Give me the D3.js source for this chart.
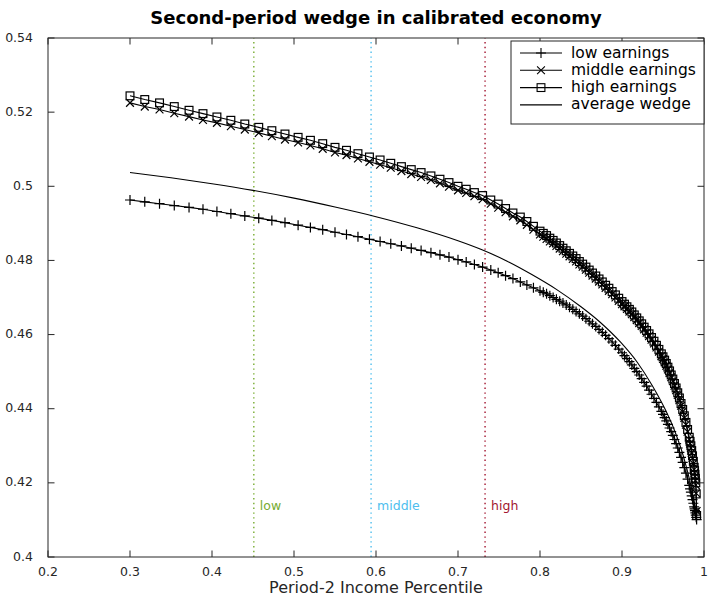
<!DOCTYPE html>
<html>
<head>
<meta charset="utf-8">
<script src="https://cdn.jsdelivr.net/npm/d3@7"></script>
<style>
body { margin: 0; background: #fff; }
text { font-family: "DejaVu Sans", "Liberation Sans", Arial, sans-serif; }
</style>
</head>
<body>
<div id="chart"></div>
<script>
// percentile grid shared by the three marker series
const pct = [0.300,0.318,0.336,0.354,0.372,0.389,0.406,0.423,0.440,0.457,
  0.473,0.489,0.505,0.520,0.535,0.550,0.564,0.578,0.592,0.605,
  0.618,0.631,0.643,0.655,0.667,0.678,0.689,0.700,0.710,0.720,
  0.730,0.740,0.749,0.758,0.767,0.776,0.784,0.792,0.800,
  0.804,0.808,0.812,0.816,0.820,0.824,0.828,0.832,0.836,0.840,
  0.844,0.848,0.852,0.856,0.860,0.864,0.868,0.872,0.876,0.880,
  0.884,0.888,0.892,0.896,0.900,
  0.903,0.906,0.909,0.912,0.915,0.918,0.921,0.924,0.927,0.930,
  0.933,0.936,0.939,0.942,0.945,0.948,
  0.950,0.952,0.954,0.956,0.958,0.960,0.962,0.964,0.966,0.968,
  0.970,0.972,0.974,0.976,0.978,0.980,0.982,
  0.983,0.984,0.985,0.986,0.987,0.988,
  0.9885,0.989,0.9895,0.990,0.9905,0.991];

const lowEarnings = [0.4963,0.4958,0.4953,0.4948,0.4943,0.4938,0.4932,0.4926,0.4920,0.4914,
  0.4908,0.4902,0.4895,0.4889,0.4883,0.4876,0.4870,0.4864,0.4857,0.4851,
  0.4845,0.4839,0.4833,0.4827,0.4821,0.4815,0.4809,0.4802,0.4796,0.4789,
  0.4782,0.4774,0.4767,0.4759,0.4751,0.4742,0.4734,0.4726,0.4718,
  0.4714,0.4710,0.4705,0.4700,0.4695,0.4690,0.4685,0.4680,0.4674,0.4668,
  0.4662,0.4656,0.4650,0.4643,0.4636,0.4629,0.4622,0.4614,0.4606,0.4598,
  0.4589,0.4580,0.4571,0.4561,0.4551,
  0.4543,0.4535,0.4527,0.4518,0.4509,0.4500,0.4491,0.4481,0.4471,0.4461,
  0.4450,0.4439,0.4428,0.4417,0.4405,0.4393,
  0.4385,0.4376,0.4367,0.4358,0.4348,0.4338,0.4328,0.4317,0.4306,0.4294,
  0.4282,0.4269,0.4255,0.4241,0.4226,0.4210,0.4193,
  0.4184,0.4175,0.4165,0.4155,0.4145,0.4135,
  0.4130,0.4125,0.4119,0.4113,0.4107,0.4101];

const middleEarnings = [0.5225,0.5215,0.5207,0.5197,0.5188,0.5179,0.5171,0.5162,0.5153,0.5144,
  0.5135,0.5126,0.5118,0.5110,0.5101,0.5091,0.5084,0.5075,0.5066,0.5058,
  0.5050,0.5041,0.5033,0.5025,0.5017,0.5008,0.4999,0.4989,0.4982,0.4973,
  0.4965,0.4953,0.4942,0.4930,0.4919,0.4908,0.4896,0.4883,0.4870,
  0.4864,0.4858,0.4851,0.4846,0.4839,0.4832,0.4825,0.4818,0.4811,0.4804,
  0.4797,0.4789,0.4783,0.4775,0.4767,0.4759,0.4751,0.4743,0.4735,0.4726,
  0.4718,0.4709,0.4700,0.4691,0.4682,
  0.4676,0.4669,0.4662,0.4655,0.4647,0.4639,0.4631,0.4623,0.4614,0.4605,
  0.4596,0.4586,0.4576,0.4565,0.4554,0.4542,
  0.4534,0.4525,0.4516,0.4506,0.4496,0.4485,0.4474,0.4462,0.4450,0.4437,
  0.4423,0.4408,0.4392,0.4375,0.4357,0.4338,0.4317,
  0.4306,0.4294,0.4281,0.4267,0.4252,0.4236,
  0.4227,0.4217,0.4206,0.4194,0.4172,0.4124];

const highEarnings = [0.5244,0.5234,0.5225,0.5215,0.5205,0.5196,0.5187,0.5178,0.5168,0.5159,
  0.5150,0.5141,0.5132,0.5124,0.5115,0.5105,0.5097,0.5088,0.5079,0.5071,
  0.5062,0.5053,0.5045,0.5037,0.5028,0.5019,0.5010,0.5000,0.4992,0.4983,
  0.4975,0.4963,0.4952,0.4940,0.4928,0.4917,0.4905,0.4892,0.4879,
  0.4873,0.4867,0.4860,0.4854,0.4847,0.4840,0.4833,0.4826,0.4819,0.4812,
  0.4805,0.4797,0.4790,0.4782,0.4774,0.4766,0.4758,0.4750,0.4742,0.4733,
  0.4725,0.4716,0.4707,0.4698,0.4689,
  0.4682,0.4675,0.4668,0.4661,0.4653,0.4645,0.4637,0.4629,0.4620,0.4611,
  0.4602,0.4592,0.4582,0.4571,0.4560,0.4548,
  0.4540,0.4531,0.4522,0.4512,0.4502,0.4491,0.4480,0.4468,0.4456,0.4443,
  0.4429,0.4414,0.4398,0.4381,0.4363,0.4344,0.4323,
  0.4312,0.4300,0.4287,0.4273,0.4258,0.4242,
  0.4233,0.4223,0.4212,0.4200,0.4170,0.4112];

// average wedge (plain line, no markers)
const avgPct = [0.300,0.350,0.400,0.450,0.500,0.550,0.600,0.650,0.700,0.730,
  0.760,0.790,0.820,0.850,0.873,0.898,0.919,0.937,0.952,0.965,0.975,0.983,0.989,0.991];
const avgWedge = [0.5037,0.5023,0.5007,0.4989,0.4968,0.4944,0.4918,0.4888,0.4853,0.4828,
  0.4798,0.4762,0.4722,0.4675,0.4634,0.4580,0.4524,0.4462,0.4401,0.4336,0.4271,0.4203,0.4139,0.4112];

// cutoff percentiles
const cutNames = ["low", "middle", "high"];
const cutValues = [0.451, 0.594, 0.733];
const cutColors = ["#77AC30", "#4DBEEE", "#A2142F"];

const xTicks = [0.2,0.3,0.4,0.5,0.6,0.7,0.8,0.9,1];
const yTicks = [0.4,0.42,0.44,0.46,0.48,0.5,0.52,0.54];

const legendNames = ["low earnings", "middle earnings", "high earnings", "average wedge"];
const legendMarks = ["plus", "cross", "square", "none"];

const width = 708, height = 598;
const margin = {top: 38, right: 4, bottom: 41, left: 48};
const axisColor = "#262626";

const svg = d3.select("#chart").append("svg")
  .attr("width", width)
  .attr("height", height);

const x = d3.scaleLinear().domain([0.2, 1]).range([margin.left, width - margin.right]);
const y = d3.scaleLinear().domain([0.4, 0.54]).range([height - margin.bottom, margin.top]);

// dotted cutoff lines + labels
cutValues.forEach((c, i) => {
  svg.append("line")
    .attr("x1", x(c)).attr("x2", x(c))
    .attr("y1", y(0.4)).attr("y2", y(0.54))
    .attr("stroke", cutColors[i])
    .attr("stroke-width", 1.4)
    .attr("stroke-dasharray", "1.4,3.4");
  svg.append("text")
    .attr("x", x(c) + 6)
    .attr("y", y(0.4135))
    .attr("dominant-baseline", "middle")
    .style("font-size", "12.5px")
    .style("fill", cutColors[i])
    .text(cutNames[i]);
});

// marker shapes
function drawMarker(g, kind, cx, cy) {
  if (kind == "plus") {
    g.append("path").attr("d", `M${cx-5},${cy}H${cx+5}M${cx},${cy-5}V${cy+5}`);
  } else if (kind == "cross") {
    g.append("path").attr("d", `M${cx-3.9},${cy-3.9}L${cx+3.9},${cy+3.9}M${cx-3.9},${cy+3.9}L${cx+3.9},${cy-3.9}`);
  } else if (kind == "square") {
    g.append("rect").attr("x", cx-3.9).attr("y", cy-3.9).attr("width", 7.8).attr("height", 7.8).attr("fill", "none");
  }
}

const line = d3.line().x(d => x(d[0])).y(d => y(d[1]));

const series = [
  {vals: lowEarnings, mark: "plus"},
  {vals: middleEarnings, mark: "cross"},
  {vals: highEarnings, mark: "square"}
];

const plot = svg.append("g").attr("stroke", "#000").attr("stroke-width", 1.1).attr("fill", "none");

series.forEach(s => {
  const pts = pct.map((p, i) => [p, s.vals[i]]);
  plot.append("path").attr("d", line(pts));
  const mg = plot.append("g").attr("stroke-width", 1.2);
  pts.forEach(d => drawMarker(mg, s.mark, x(d[0]), y(d[1])));
});

plot.append("path")
  .attr("d", d3.line().curve(d3.curveMonotoneX).x(d => x(d[0])).y(d => y(d[1]))(avgPct.map((p, i) => [p, avgWedge[i]])));

// axes box with inward ticks on all sides
const ax = svg.append("g").attr("stroke", axisColor).attr("stroke-width", 1);
ax.append("rect")
  .attr("x", x(0.2)).attr("y", y(0.54))
  .attr("width", x(1) - x(0.2)).attr("height", y(0.4) - y(0.54))
  .attr("fill", "none");
const tl = 6.5;
xTicks.forEach(t => {
  ax.append("line").attr("x1", x(t)).attr("x2", x(t)).attr("y1", y(0.4)).attr("y2", y(0.4) - tl);
  ax.append("line").attr("x1", x(t)).attr("x2", x(t)).attr("y1", y(0.54)).attr("y2", y(0.54) + tl);
});
yTicks.forEach(t => {
  ax.append("line").attr("y1", y(t)).attr("y2", y(t)).attr("x1", x(0.2)).attr("x2", x(0.2) + tl);
  ax.append("line").attr("y1", y(t)).attr("y2", y(t)).attr("x1", x(1)).attr("x2", x(1) - tl);
});

const fmt = d => String(+d.toFixed(2));
svg.selectAll("text.xtick").data(xTicks).enter().append("text")
  .attr("class", "xtick")
  .attr("x", d => x(d)).attr("y", y(0.4) + 19)
  .attr("text-anchor", "middle")
  .style("font-size", "12.5px").style("fill", axisColor)
  .text(fmt);
svg.selectAll("text.ytick").data(yTicks).enter().append("text")
  .attr("class", "ytick")
  .attr("x", x(0.2) - 15).attr("y", d => y(d))
  .attr("text-anchor", "end").attr("dominant-baseline", "middle")
  .style("font-size", "12.5px").style("fill", axisColor)
  .text(fmt);

// labels
svg.append("text")
  .attr("x", (x(0.2) + x(1)) / 2).attr("y", height - 5)
  .attr("text-anchor", "middle")
  .style("font-size", "16px").style("fill", axisColor)
  .text("Period-2 Income Percentile");

svg.append("text")
  .attr("x", (x(0.2) + x(1)) / 2).attr("y", 24)
  .attr("text-anchor", "middle")
  .style("font-size", "18px").style("font-weight", "bold")
  .text("Second-period wedge in calibrated economy");

// legend
const lg = svg.append("g");
const lx = 511, ly = 41, lw = 193, lh = 83, rowH = 17.3;
lg.append("rect").attr("x", lx).attr("y", ly).attr("width", lw).attr("height", lh)
  .attr("fill", "#fff").attr("stroke", axisColor).attr("stroke-width", 1);
legendNames.forEach((name, i) => {
  const cy = ly + 12 + i * rowH;
  const g = lg.append("g").attr("stroke", "#000").attr("stroke-width", 1.1).attr("fill", "none");
  g.append("line").attr("x1", lx + 9).attr("x2", lx + 51).attr("y1", cy).attr("y2", cy);
  drawMarker(g, legendMarks[i], lx + 30, cy);
  lg.append("text")
    .attr("x", lx + 60).attr("y", cy)
    .attr("dominant-baseline", "middle")
    .style("font-size", "15.5px")
    .text(name);
});
</script>
</body>
</html>
